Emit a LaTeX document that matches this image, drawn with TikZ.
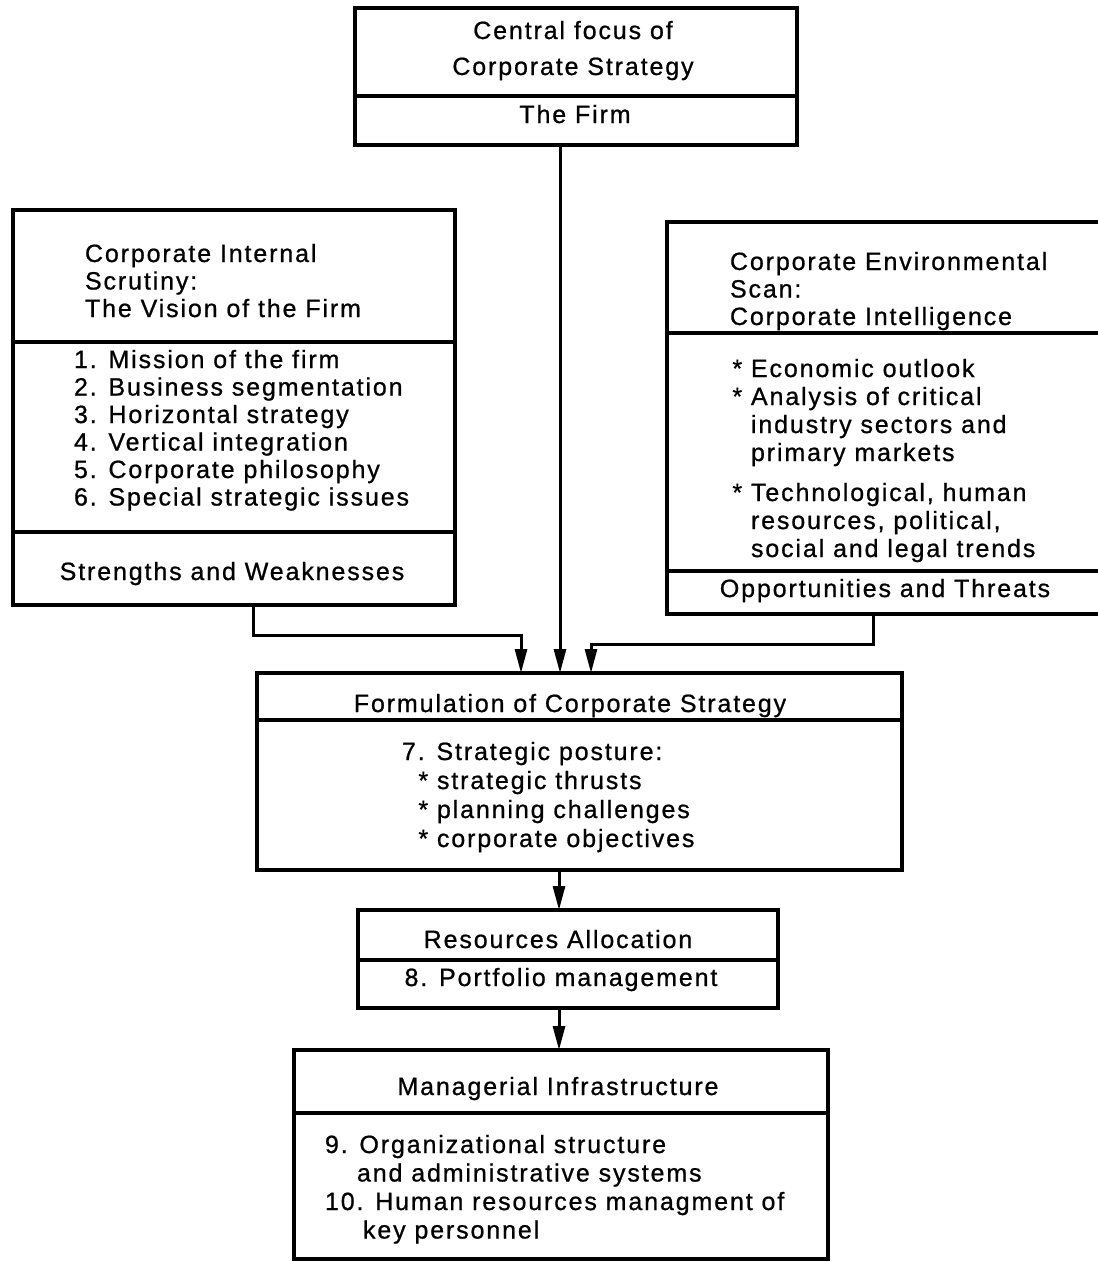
\documentclass[tikz,border=0pt]{standalone}
\usepackage{fontspec}
\setmainfont{Liberation Sans}[LetterSpace=7.5,FakeBold=0.8]
\usetikzlibrary{arrows.meta}
\begin{document}
\begin{tikzpicture}[x=1pt,y=-1pt,
  box/.style={draw,line width=3.2pt,rectangle,inner sep=0pt,outer sep=0pt,anchor=north west},
  txt/.style={font=\fontsize{25}{27.5}\selectfont,inner sep=0pt,outer sep=0pt,align=left},
  conn/.style={line width=3pt},
  arr/.style={conn,-{Triangle[length=24pt,width=12pt]}}]
\useasboundingbox (0,0) rectangle (1098,1262);

% compartments
\node[box,minimum width=442pt,minimum height=88pt] (focusHead) at (355,8) {};
\node[box,minimum width=442pt,minimum height=49pt] (focusFirm) at (355,96) {};

\node[box,minimum width=442pt,minimum height=132pt] (intHead) at (13,210) {};
\node[box,minimum width=442pt,minimum height=190pt] (intList) at (13,342) {};
\node[box,minimum width=442pt,minimum height=73pt] (intSW) at (13,532) {};

\node[box,minimum width=450pt,minimum height=111pt] (envHead) at (667,222) {};
\node[box,minimum width=450pt,minimum height=238pt] (envList) at (667,333) {};
\node[box,minimum width=450pt,minimum height=43pt] (envOT) at (667,571) {};

\node[box,minimum width=645pt,minimum height=47pt] (formHead) at (257,673) {};
\node[box,minimum width=645pt,minimum height=150pt] (formBody) at (257,720) {};

\node[box,minimum width=420pt,minimum height=50pt] (resHead) at (358,910) {};
\node[box,minimum width=420pt,minimum height=48pt] (resBody) at (358,960) {};

\node[box,minimum width=534pt,minimum height=63pt] (manHead) at (294,1050) {};
\node[box,minimum width=534pt,minimum height=146pt] (manBody) at (294,1113) {};

% texts (multi-line nodes: base anchor = baseline of last line)
\node[txt,align=center,anchor=base,font=\fontsize{25}{36}\selectfont] (focusT) at (573,75) {Central focus of\\Corporate Strategy};
\node[txt,anchor=base] (firmT) at (575,123) {The Firm};

\node[txt,anchor=base west] (intT) at (85,317) {Corporate Internal\\Scrutiny:\\The Vision of the Firm};
\node[txt,anchor=base west] (intL) at (74,505.5) {1. Mission of the firm\\2. Business segmentation\\3. Horizontal strategy\\4. Vertical integration\\5. Corporate philosophy\\6. Special strategic issues};
\node[txt,anchor=base] (swT) at (232,580) {Strengths and Weaknesses};

\node[txt,anchor=base west] (envT) at (730,325) {Corporate Environmental\\Scan:\\Corporate Intelligence};
\node[txt,anchor=base west,font=\fontsize{25}{28}\selectfont] (envL) at (751,557) {\llap{*\ }Economic outlook\\\llap{*\ }Analysis of critical\\industry sectors and\\primary markets\\[12pt]\llap{*\ }Technological, human\\resources, political,\\social and legal trends};
\node[txt,anchor=base] (otT) at (885,597) {Opportunities and Threats};

\node[txt,anchor=base] (formT) at (570,712) {Formulation of Corporate Strategy};
\node[txt,anchor=base west,font=\fontsize{25}{29}\selectfont] (formL) at (402,847) {7. Strategic posture:\\\hspace{35pt}\llap{*\ }strategic thrusts\\\hspace{35pt}\llap{*\ }planning challenges\\\hspace{35pt}\llap{*\ }corporate objectives};

\node[txt,anchor=base] (resT) at (558,948) {Resources Allocation};
\node[txt,anchor=base] (portT) at (561,986) {8. Portfolio management};

\node[txt,anchor=base] (manT) at (558,1095) {Managerial Infrastructure};
\node[txt,anchor=base west,font=\fontsize{25}{28.5}\selectfont] (manL) at (325,1238.5) {9. Organizational structure\\\hspace{32pt}and administrative systems\\10. Human resources managment of\\\hspace{38pt}key personnel};

% connectors
\coordinate (xm) at (560,0);
\coordinate (xl) at (253,0);
\coordinate (jl) at (521,635);
\coordinate (xr) at (873,0);
\coordinate (jr) at (591,644);
\coordinate (xb) at (559,0);

\draw[arr] (focusFirm.south -| xm) -- (formHead.north -| xm);
\draw[arr] (intSW.south -| xl) |- (jl) -- (jl |- formHead.north);
\draw[arr] (envOT.south -| xr) |- (jr) -- (jr |- formHead.north);
\draw[arr] (formBody.south -| xb) -- (resHead.north -| xb);
\draw[arr] (resBody.south -| xb) -- (manHead.north -| xb);
\end{tikzpicture}
\end{document}
